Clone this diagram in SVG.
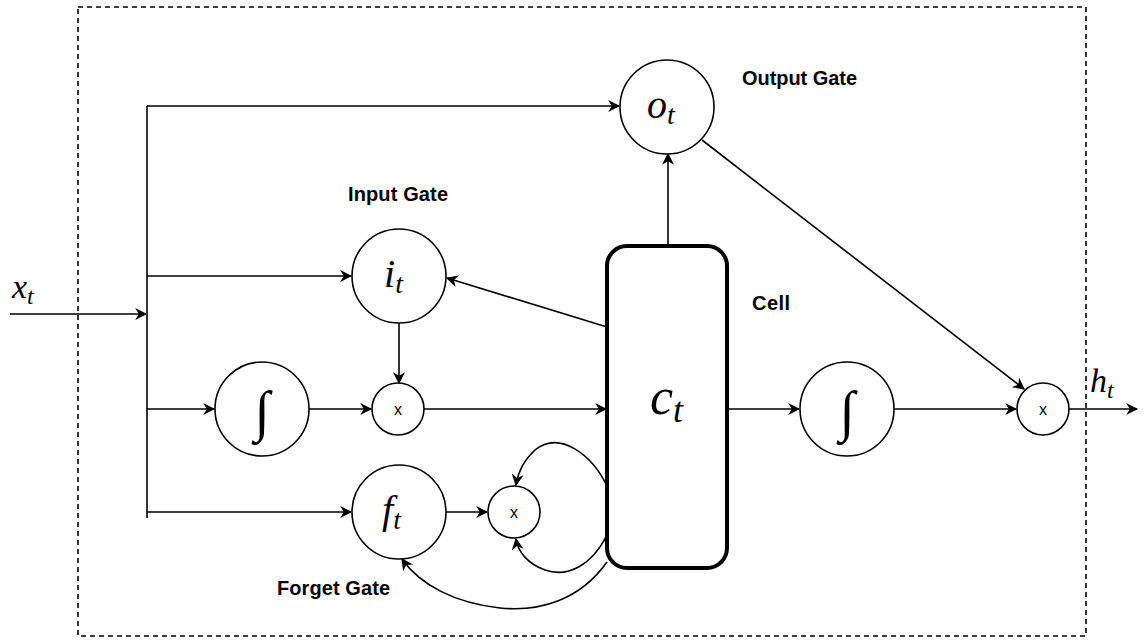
<svg xmlns="http://www.w3.org/2000/svg" width="1145" height="642" viewBox="0 0 1145 642">
<defs>
<marker id="ah" viewBox="0 0 10 10" refX="9" refY="5" markerWidth="12" markerHeight="12" markerUnits="userSpaceOnUse" orient="auto">
<path d="M0,0 L10,5 L0,10 L3,5 z" fill="#000"/>
</marker>
<style>
.ln{fill:none;stroke:#000;stroke-width:1.6}
.nd{fill:#fff;stroke:#000;stroke-width:1.6}
.m{font-family:"Liberation Serif","DejaVu Serif",serif;font-style:italic;fill:#000}
.int{font-family:"Liberation Serif","DejaVu Serif",serif;font-style:italic;fill:#000;font-size:56px}
.lb{font-family:"Liberation Sans",Arial,sans-serif;font-weight:bold;font-size:20px;fill:#000}
.x{font-family:"Liberation Sans",Arial,sans-serif;font-size:16px;fill:#000}
</style>
</defs>
<rect width="1145" height="642" fill="#fff"/>
<rect x="78" y="7" width="1008" height="629" fill="none" stroke="#000" stroke-width="1.6" stroke-dasharray="5,4"/>
<g id="connectors">
<line class="ln" x1="10" y1="314" x2="146" y2="314" marker-end="url(#ah)"/>
<line class="ln" x1="147" y1="106" x2="147" y2="518"/>
<line class="ln" x1="147" y1="106" x2="619" y2="106" marker-end="url(#ah)"/>
<line class="ln" x1="147" y1="276" x2="351" y2="276" marker-end="url(#ah)"/>
<line class="ln" x1="147" y1="409" x2="214" y2="409" marker-end="url(#ah)"/>
<line class="ln" x1="147" y1="512" x2="351" y2="512" marker-end="url(#ah)"/>
<line class="ln" x1="309" y1="409" x2="371" y2="409" marker-end="url(#ah)"/>
<line class="ln" x1="399" y1="323" x2="399" y2="383" marker-end="url(#ah)"/>
<line class="ln" x1="424" y1="409" x2="606" y2="409" marker-end="url(#ah)"/>
<line class="ln" x1="607" y1="327" x2="447" y2="278" marker-end="url(#ah)"/>
<line class="ln" x1="668" y1="245" x2="668" y2="154" marker-end="url(#ah)"/>
<line class="ln" x1="446" y1="512" x2="487" y2="512" marker-end="url(#ah)"/>
<path class="ln" d="M607,486 C592,455 560,430 535,450 C524,460 518,472 516,485" marker-end="url(#ah)"/>
<path class="ln" d="M607,535 C592,565 568,578 545,570 C528,564 518,552 516,539" marker-end="url(#ah)"/>
<path class="ln" d="M607,562 C580,600 540,612 500,608 C455,603 420,585 402,559" marker-end="url(#ah)"/>
<line class="ln" x1="729" y1="409" x2="799" y2="409" marker-end="url(#ah)"/>
<line class="ln" x1="894" y1="409" x2="1016" y2="409" marker-end="url(#ah)"/>
<line class="ln" x1="702" y1="140" x2="1024" y2="389" marker-end="url(#ah)"/>
<line class="ln" x1="1069" y1="409" x2="1137" y2="409" marker-end="url(#ah)"/>
</g>
<g id="xt"><text class="m" x="12" y="298" font-size="34">x<tspan font-size="24" dy="6">t</tspan></text></g>
<g id="ot">
<circle class="nd" cx="667" cy="107" r="47"/>
<text class="m" x="647" y="118" font-size="40">o<tspan font-size="28" dy="6">t</tspan></text>
</g>
<g id="it">
<circle class="nd" cx="399" cy="276" r="47"/>
<text class="m" x="384" y="287" font-size="40">i<tspan font-size="28" dy="6">t</tspan></text>
</g>
<g id="mul1">
<circle class="nd" cx="398" cy="409" r="26"/>
<text class="x" x="398" y="415" text-anchor="middle">x</text>
</g>
<g id="sig1">
<circle class="nd" cx="262" cy="409" r="47"/>
<text class="int" x="262" y="430" text-anchor="middle">∫</text>
</g>
<g id="ft">
<circle class="nd" cx="399" cy="512" r="47"/>
<text class="m" x="382" y="523" font-size="40">f<tspan font-size="28" dy="6">t</tspan></text>
</g>
<g id="mul2">
<circle class="nd" cx="514" cy="512" r="26"/>
<text class="x" x="514" y="518" text-anchor="middle">x</text>
</g>
<g id="cell">
<rect x="607" y="246" width="120" height="322" rx="20" ry="20" fill="#fff" stroke="#000" stroke-width="4"/>
<text class="m" x="650" y="414" font-size="52">c<tspan font-size="36" dy="8">t</tspan></text>
</g>
<g id="sig2">
<circle class="nd" cx="847" cy="409" r="47"/>
<text class="int" x="847" y="430" text-anchor="middle">∫</text>
</g>
<g id="mul3">
<circle class="nd" cx="1043" cy="409" r="26"/>
<text class="x" x="1043" y="415" text-anchor="middle">x</text>
</g>
<g id="ht"><text class="m" x="1090" y="392" font-size="34">h<tspan font-size="24" dy="6">t</tspan></text></g>
<g id="labels">
<text class="lb" x="742" y="85" textLength="115">Output Gate</text>
<text class="lb" x="348" y="201" textLength="100">Input Gate</text>
<text class="lb" x="752" y="310" textLength="38">Cell</text>
<text class="lb" x="277" y="595" textLength="113">Forget Gate</text>
</g>
</svg>
